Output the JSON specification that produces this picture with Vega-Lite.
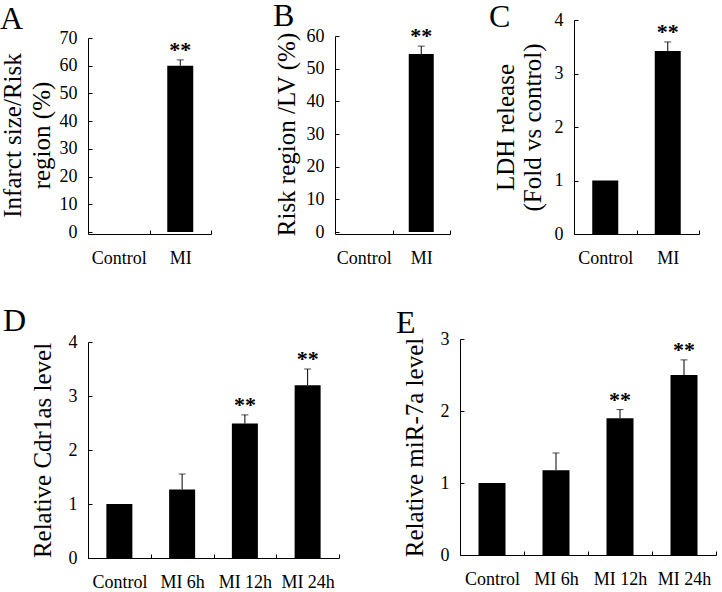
{
  "$schema": "https://vega.github.io/schema/vega-lite/v6.json",
  "background": "white",
  "padding": 0,
  "config": {
    "view": {"stroke": null},
    "font": "Liberation Serif",
    "axis": {
      "grid": false,
      "domainColor": "black",
      "domainWidth": 1,
      "tickColor": "black",
      "tickWidth": 1,
      "tickSize": -4,
      "labelColor": "black",
      "titleColor": "black",
      "labelFont": "Liberation Serif",
      "titleFont": "Liberation Serif",
      "titleFontWeight": "normal",
      "titleFontSize": 25,
      "titleLineHeight": 29
    },
    "axisX": {"labelFontSize": 18, "labelPadding": 19, "labelAngle": 0, "tickBand": "extent", "title": null},
    "axisY": {"labelFontSize": 18, "labelPadding": 15, "format": "d"},
    "title": {"font": "Liberation Serif", "fontSize": 32, "fontWeight": "normal", "color": "black", "anchor": "start", "frame": "group", "baseline": "alphabetic"}
  },
  "spacing": 38,
  "vconcat": [
    {
      "bounds": "flush",
      "spacing": 124,
      "hconcat": [
        {
          "width": 123, "height": 214,
          "title": {"text": "A", "dx": -88, "dy": 20},
          "data": {"values": [
            {"g": "Control", "v": 0, "e": null, "sig": ""},
            {"g": "MI", "v": 60, "e": 62.1, "sig": "**"}
          ]},
          "encoding": {"x": {"field": "g", "type": "nominal", "sort": null, "scale": {"paddingInner": 0, "paddingOuter": 0}}},
          "layer": [
            {"mark": {"type": "bar", "color": "black", "size": 26},
             "encoding": {"y": {"field": "v", "type": "quantitative",
               "scale": {"domain": [0, 70], "range": [212, 18]},
               "axis": {"values": [0, 10, 20, 30, 40, 50, 60, 70], "title": ["Infarct size/Risk", "region (%)"], "titlePadding": 5}}}},
            {"transform": [{"filter": "datum.e != null"}], "mark": {"type": "rule", "color": "black", "strokeWidth": 1},
             "encoding": {"y": {"field": "v", "type": "quantitative", "axis": {"values": [0, 10, 20, 30, 40, 50, 60, 70], "title": ["Infarct size/Risk", "region (%)"], "titlePadding": 5}}, "y2": {"field": "e"}}},
            {"transform": [{"filter": "datum.e != null"}], "mark": {"type": "tick", "color": "black", "orient": "horizontal", "size": 7, "thickness": 1},
             "encoding": {"y": {"field": "e", "type": "quantitative", "axis": {"values": [0, 10, 20, 30, 40, 50, 60, 70], "title": ["Infarct size/Risk", "region (%)"], "titlePadding": 5}}}},
            {"transform": [{"filter": "datum.e != null"}], "mark": {"type": "text", "fontSize": 22, "fontWeight": "bold", "baseline": "alphabetic", "dy": -3, "color": "black"},
             "encoding": {"y": {"field": "e", "type": "quantitative", "axis": {"values": [0, 10, 20, 30, 40, 50, 60, 70], "title": ["Infarct size/Risk", "region (%)"], "titlePadding": 5}}, "text": {"field": "sig"}}}
          ]
        },
        {
          "width": 115, "height": 214,
          "title": {"text": "B", "dx": -62, "dy": 17},
          "data": {"values": [
            {"g": "Control", "v": 0, "e": null, "sig": ""},
            {"g": "MI", "v": 54.5, "e": 56.9, "sig": "**"}
          ]},
          "encoding": {"x": {"field": "g", "type": "nominal", "sort": null, "scale": {"paddingInner": 0, "paddingOuter": 0}}},
          "layer": [
            {"mark": {"type": "bar", "color": "black", "size": 25},
             "encoding": {"y": {"field": "v", "type": "quantitative",
               "scale": {"domain": [0, 60], "range": [212, 16]},
               "axis": {"values": [0, 10, 20, 30, 40, 50, 60], "title": "Risk region /LV (%)", "titlePadding": 7}}}},
            {"transform": [{"filter": "datum.e != null"}], "mark": {"type": "rule", "color": "black", "strokeWidth": 1},
             "encoding": {"y": {"field": "v", "type": "quantitative", "axis": {"values": [0, 10, 20, 30, 40, 50, 60], "title": "Risk region /LV (%)", "titlePadding": 7}}, "y2": {"field": "e"}}},
            {"transform": [{"filter": "datum.e != null"}], "mark": {"type": "tick", "color": "black", "orient": "horizontal", "size": 7, "thickness": 1},
             "encoding": {"y": {"field": "e", "type": "quantitative", "axis": {"values": [0, 10, 20, 30, 40, 50, 60], "title": "Risk region /LV (%)", "titlePadding": 7}}}},
            {"transform": [{"filter": "datum.e != null"}], "mark": {"type": "text", "fontSize": 22, "fontWeight": "bold", "baseline": "alphabetic", "dy": -3, "color": "black"},
             "encoding": {"y": {"field": "e", "type": "quantitative", "axis": {"values": [0, 10, 20, 30, 40, 50, 60], "title": "Risk region /LV (%)", "titlePadding": 7}}, "text": {"field": "sig"}}}
          ]
        },
        {
          "width": 125, "height": 214,
          "title": {"text": "C", "dx": -85, "dy": 27},
          "data": {"values": [
            {"g": "Control", "v": 1, "e": null, "sig": ""},
            {"g": "MI", "v": 3.42, "e": 3.59, "sig": "**"}
          ]},
          "encoding": {"x": {"field": "g", "type": "nominal", "sort": null, "scale": {"paddingInner": 0, "paddingOuter": 0}}},
          "layer": [
            {"mark": {"type": "bar", "color": "black", "size": 26},
             "encoding": {"y": {"field": "v", "type": "quantitative",
               "scale": {"domain": [0, 4]},
               "axis": {"values": [0, 1, 2, 3, 4], "title": ["LDH release", "(Fold vs control)"], "titlePadding": 9, "titleLineHeight": 27}}}},
            {"transform": [{"filter": "datum.e != null"}], "mark": {"type": "rule", "color": "black", "strokeWidth": 1},
             "encoding": {"y": {"field": "v", "type": "quantitative", "axis": {"values": [0, 1, 2, 3, 4], "title": ["LDH release", "(Fold vs control)"], "titlePadding": 9, "titleLineHeight": 27}}, "y2": {"field": "e"}}},
            {"transform": [{"filter": "datum.e != null"}], "mark": {"type": "tick", "color": "black", "orient": "horizontal", "size": 7, "thickness": 1},
             "encoding": {"y": {"field": "e", "type": "quantitative", "axis": {"values": [0, 1, 2, 3, 4], "title": ["LDH release", "(Fold vs control)"], "titlePadding": 9, "titleLineHeight": 27}}}},
            {"transform": [{"filter": "datum.e != null"}], "mark": {"type": "text", "fontSize": 22, "fontWeight": "bold", "baseline": "alphabetic", "dy": -3, "color": "black"},
             "encoding": {"y": {"field": "e", "type": "quantitative", "axis": {"values": [0, 1, 2, 3, 4], "title": ["LDH release", "(Fold vs control)"], "titlePadding": 9, "titleLineHeight": 27}}, "text": {"field": "sig"}}}
          ]
        }
      ]
    },
    {
      "bounds": "flush",
      "spacing": 121,
      "hconcat": [
        {
          "width": 251, "height": 219,
          "title": {"text": "D", "dx": -85, "dy": 9},
          "data": {"values": [
            {"g": "Control", "v": 1, "e": null, "sig": ""},
            {"g": "MI 6h", "v": 1.27, "e": 1.555, "sig": ""},
            {"g": "MI 12h", "v": 2.49, "e": 2.65, "sig": "**"},
            {"g": "MI 24h", "v": 3.2, "e": 3.5, "sig": "**"}
          ]},
          "encoding": {"x": {"field": "g", "type": "nominal", "sort": null, "scale": {"paddingInner": 0, "paddingOuter": 0}}},
          "layer": [
            {"mark": {"type": "bar", "color": "black", "size": 26},
             "encoding": {"y": {"field": "v", "type": "quantitative",
               "scale": {"domain": [0, 4], "range": [219, 3]},
               "axis": {"values": [0, 1, 2, 3, 4], "title": "Relative Cdr1as level", "titlePadding": 13}}}},
            {"transform": [{"filter": "datum.e != null"}], "mark": {"type": "rule", "color": "black", "strokeWidth": 1},
             "encoding": {"y": {"field": "v", "type": "quantitative", "axis": {"values": [0, 1, 2, 3, 4], "title": "Relative Cdr1as level", "titlePadding": 13}}, "y2": {"field": "e"}}},
            {"transform": [{"filter": "datum.e != null"}], "mark": {"type": "tick", "color": "black", "orient": "horizontal", "size": 7, "thickness": 1},
             "encoding": {"y": {"field": "e", "type": "quantitative", "axis": {"values": [0, 1, 2, 3, 4], "title": "Relative Cdr1as level", "titlePadding": 13}}}},
            {"transform": [{"filter": "datum.e != null"}], "mark": {"type": "text", "fontSize": 22, "fontWeight": "bold", "baseline": "alphabetic", "dy": -3, "color": "black"},
             "encoding": {"y": {"field": "e", "type": "quantitative", "axis": {"values": [0, 1, 2, 3, 4], "title": "Relative Cdr1as level", "titlePadding": 13}}, "text": {"field": "sig"}}}
          ]
        },
        {
          "width": 256, "height": 216,
          "title": {"text": "E", "dx": -64, "dy": 14},
          "data": {"values": [
            {"g": "Control", "v": 1, "e": null, "sig": ""},
            {"g": "MI 6h", "v": 1.176, "e": 1.417, "sig": ""},
            {"g": "MI 12h", "v": 1.9, "e": 2.02, "sig": "**"},
            {"g": "MI 24h", "v": 2.5, "e": 2.71, "sig": "**"}
          ]},
          "encoding": {"x": {"field": "g", "type": "nominal", "sort": null, "scale": {"paddingInner": 0, "paddingOuter": 0}}},
          "layer": [
            {"mark": {"type": "bar", "color": "black", "size": 27},
             "encoding": {"y": {"field": "v", "type": "quantitative",
               "scale": {"domain": [0, 3]},
               "axis": {"values": [0, 1, 2, 3], "title": "Relative miR-7a level", "titlePadding": 13}}}},
            {"transform": [{"filter": "datum.e != null"}], "mark": {"type": "rule", "color": "black", "strokeWidth": 1},
             "encoding": {"y": {"field": "v", "type": "quantitative", "axis": {"values": [0, 1, 2, 3], "title": "Relative miR-7a level", "titlePadding": 13}}, "y2": {"field": "e"}}},
            {"transform": [{"filter": "datum.e != null"}], "mark": {"type": "tick", "color": "black", "orient": "horizontal", "size": 7, "thickness": 1},
             "encoding": {"y": {"field": "e", "type": "quantitative", "axis": {"values": [0, 1, 2, 3], "title": "Relative miR-7a level", "titlePadding": 13}}}},
            {"transform": [{"filter": "datum.e != null"}], "mark": {"type": "text", "fontSize": 22, "fontWeight": "bold", "baseline": "alphabetic", "dy": -3, "color": "black"},
             "encoding": {"y": {"field": "e", "type": "quantitative", "axis": {"values": [0, 1, 2, 3], "title": "Relative miR-7a level", "titlePadding": 13}}, "text": {"field": "sig"}}}
          ]
        }
      ]
    }
  ]
}
